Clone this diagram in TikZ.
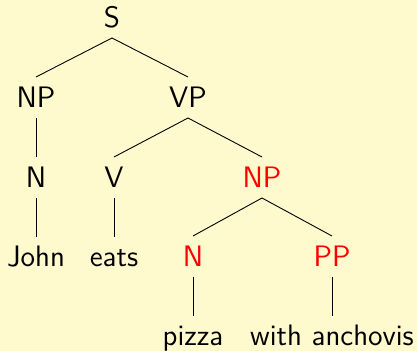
\documentclass[tikz,border=0pt]{standalone}
\usepackage{xcolor}
\definecolor{bg}{RGB}{255,250,205}
\begin{document}
\begin{tikzpicture}[x=0.5pt,y=-0.5pt,
  every node/.style={font=\sffamily\fontsize{14.8}{17}\selectfont, anchor=base, inner sep=0pt},
  edge/.style={draw=black, line width=0.45pt},
  hl/.style={text=red}]
\fill[bg] (0,0) rectangle (417,351);
\useasboundingbox (0,0) rectangle (417,351);
% nodes
\node (S) at (112,28) {S};
\node (NP1) at (36,108) {NP};
\node (VP) at (188,108) {VP};
\node (N1) at (36,188) {N};
\node (V) at (114,188) {V};
\node[hl] (NP2) at (262,188) {NP};
\node (John) at (36,267) {John};
\node (eats) at (114,267) {eats};
\node[hl] (N2) at (193,267) {N};
\node[hl] (PP) at (332,267) {PP};
\node (pizza) at (193,346) {pizza};
\node (with) at (332,346) {with anchovis};
% edges
\draw[edge] ([yshift=-5pt]S.base) -- ([yshift=15.5pt]NP1.base);
\draw[edge] ([yshift=-5pt]S.base) -- ([yshift=15.5pt]VP.base);
\draw[edge] ([yshift=-5pt]NP1.base) -- ([yshift=15.5pt]N1.base);
\draw[edge] ([yshift=-5pt]VP.base) -- ([yshift=15.5pt]V.base);
\draw[edge] ([yshift=-5pt]VP.base) -- ([yshift=15.5pt]NP2.base);
\draw[edge] ([yshift=-5pt]N1.base) -- ([yshift=15pt]John.base);
\draw[edge] ([yshift=-5pt]V.base) -- ([yshift=15pt]eats.base);
\draw[edge] ([yshift=-5pt]NP2.base) -- ([yshift=15.5pt]N2.base);
\draw[edge] ([yshift=-5pt]NP2.base) -- ([yshift=15.5pt]PP.base);
\draw[edge] ([yshift=-5pt]N2.base) -- ([yshift=15pt]pizza.base);
\draw[edge] ([yshift=-5pt]PP.base) -- ([yshift=15pt]with.base);
\end{tikzpicture}
\end{document}
